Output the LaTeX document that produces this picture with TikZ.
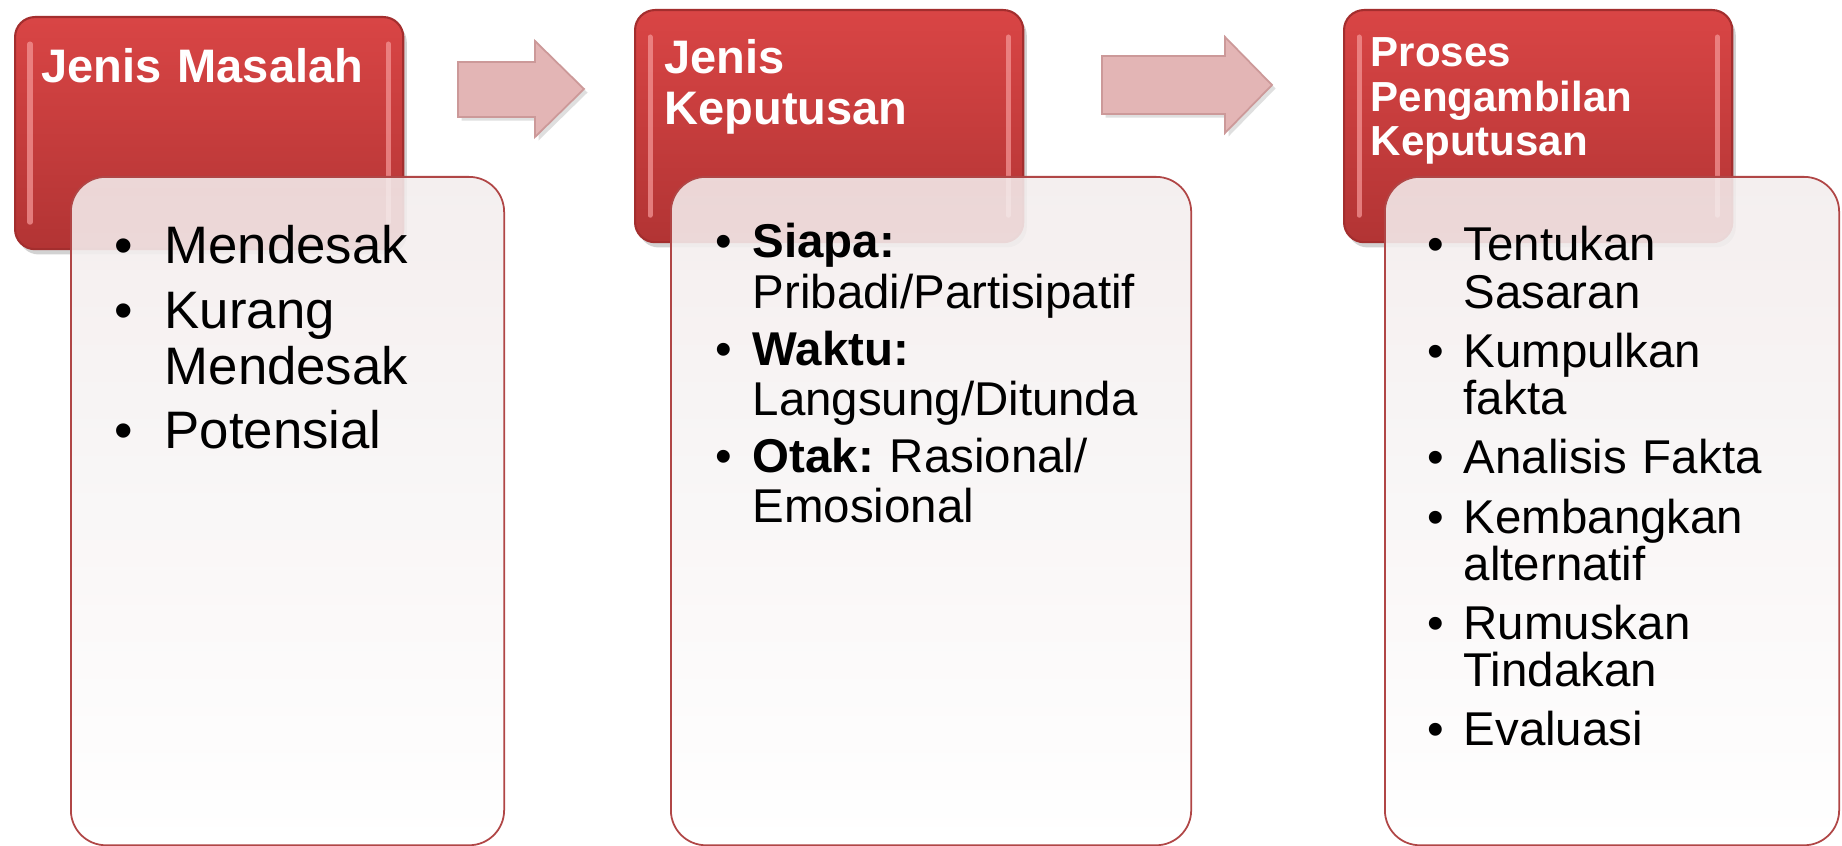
\documentclass[tikz,border=0pt]{standalone}
\usepackage{fontspec}
\setmainfont{Liberation Sans}
\usetikzlibrary{shadows, calc}

\definecolor{merahatas}{HTML}{D94545}
\definecolor{merahbawah}{HTML}{B23434}
\definecolor{merahtepi}{HTML}{A32E2E}
\definecolor{merahkilap}{HTML}{F39494}
\definecolor{panahisi}{HTML}{E3B5B5}
\definecolor{panahtepi}{HTML}{CC9999}
\definecolor{putihtepi}{HTML}{B04646}
\definecolor{putihatas}{HTML}{F3EDED}

\frenchspacing
\newlength{\indentbutir}
\newlength{\jarakbutir}
\newcommand{\butir}[1]{\hangindent=\indentbutir\hangafter=1\noindent\makebox[\indentbutir][l]{\textbullet}#1\par}
\newcommand{\jeda}{\vspace{\jarakbutir}}

\begin{document}
\begin{tikzpicture}[x=0.01cm, y=-0.01cm,
    kotakmerah/.style={anchor=north west, rounded corners=0.2cm, top color=merahatas, bottom color=merahbawah, draw=merahtepi, line width=0.6pt, minimum width=3.88cm, minimum height=2.32cm, drop shadow={opacity=0.35, shadow xshift=1pt, shadow yshift=-1.5pt}},
    kotakputih/.style={anchor=north west, rounded corners=0.35cm, top color=putihatas, bottom color=white, fill opacity=0.88, draw=putihtepi, line width=0.5pt, minimum height=6.68cm},
    panah/.style={fill=panahisi, draw=panahtepi, line width=0.5pt, drop shadow={opacity=0.25, shadow xshift=1pt, shadow yshift=-1pt}},
    kilap/.style={merahkilap, line width=0.05cm, line cap=round, opacity=0.75},
    judul/.style={anchor=base west, inner sep=0pt, text width=3.5cm, text=white, font=\bfseries\fontsize{13.37pt}{14.23pt}\selectfont},
    isi/.style={anchor=base west, inner sep=0pt, text=black}]
    \useasboundingbox[fill=white] (0,0) rectangle (1842,846);

    \node[kotakmerah] (merah1) at (14,16) {};
    \draw[kilap] ($(merah1.north west)+(16,28)$) -- ($(merah1.south west)+(16,-28)$);
    \draw[kilap] ($(merah1.north east)+(-16,28)$) -- ($(merah1.south east)+(-16,-28)$);
    \node[judul] (judul1) at (41,83) {Jenis Masalah};
    \node[kotakputih, minimum width=4.33cm] (putih1) at (70,176) {};
    \node[isi, text width=3.6cm, font=\fontsize{15pt}{15.93pt}\selectfont] (isi1) at (114,264)
        {\setlength{\indentbutir}{0.5cm}\setlength{\jarakbutir}{2.3pt}%
        \butir{Mendesak}\jeda\butir{Kurang\newline Mendesak}\jeda\butir{Potensial}};

    \filldraw[panah] (458,62) -- (535,62) -- (535,41) -- (584,89) -- (535,137) -- (535,117) -- (458,117) -- cycle;

    \node[kotakmerah] (merah2) at (634,9) {};
    \draw[kilap] ($(merah2.north west)+(16,28)$) -- ($(merah2.south west)+(16,-28)$);
    \draw[kilap] ($(merah2.north east)+(-16,28)$) -- ($(merah2.south east)+(-16,-28)$);
    \node[judul] (judul2) at (664,74) {Jenis\newline Keputusan};
    \node[kotakputih, minimum width=5.2cm] (putih2) at (670,176) {};
    \node[isi, text width=4.6cm, font=\fontsize{13.49pt}{14.23pt}\selectfont] (isi2) at (715,258)
        {\setlength{\indentbutir}{0.37cm}\setlength{\jarakbutir}{2pt}%
        \butir{\textbf{Siapa:}\newline Pribadi/Partisipatif}\jeda
        \butir{\textbf{Waktu:}\newline Langsung/Ditunda}\jeda
        \butir{\textbf{Otak:} Rasional/\newline Emosional}};

    \filldraw[panah] (1102,56) -- (1225,56) -- (1225,37) -- (1272,85) -- (1225,133) -- (1225,114) -- (1102,114) -- cycle;

    \node[kotakmerah] (merah3) at (1343,9) {};
    \draw[kilap] ($(merah3.north west)+(16,28)$) -- ($(merah3.south west)+(16,-28)$);
    \draw[kilap] ($(merah3.north east)+(-16,28)$) -- ($(merah3.south east)+(-16,-28)$);
    \node[judul, font=\bfseries\fontsize{11.95pt}{12.52pt}\selectfont] (judul3) at (1370,67) {Proses\newline Pengambilan\newline Keputusan};
    \node[kotakputih, minimum width=4.54cm] (putih3) at (1384,176) {};
    \node[isi, text width=3.9cm, font=\fontsize{13.49pt}{13.37pt}\selectfont] (isi3) at (1427,261)
        {\setlength{\indentbutir}{0.36cm}\setlength{\jarakbutir}{3.5pt}%
        \butir{Tentukan\newline Sasaran}\jeda\butir{Kumpulkan\newline fakta}\jeda\butir{Analisis Fakta}\jeda
        \butir{Kembangkan\newline alternatif}\jeda\butir{Rumuskan\newline Tindakan}\jeda\butir{Evaluasi}};
\end{tikzpicture}
\end{document}
